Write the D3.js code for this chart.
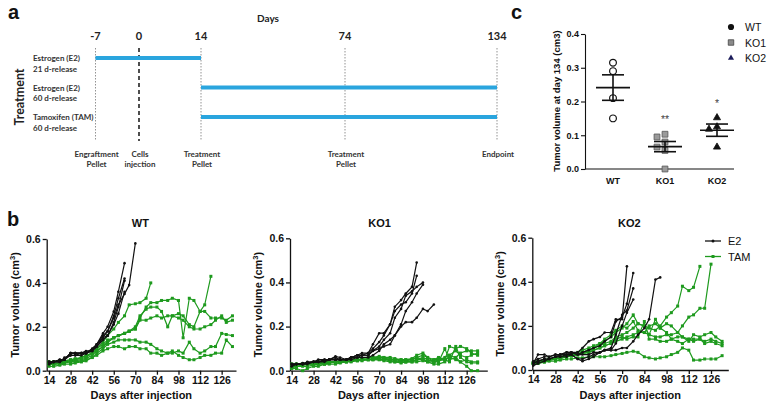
<!DOCTYPE html>
<html><head><meta charset="utf-8">
<script src="https://cdn.jsdelivr.net/npm/d3@7"></script>
<style>body{margin:0;background:#fff}svg{display:block}</style>
</head><body>
<svg id="c" width="769" height="406"></svg>
<script>
// ---------- DATA ----------
// panel a: timeline
const timelineDays = [-7, 0, 14, 74, 134];
const timelineBottom = [["Engraftment","Pellet"],["Cells","injection"],["Treatment","Pellet"],["Treatment","Pellet"],["Endpoint"]];
const treatNames = ["Estrogen (E2)","Estrogen (E2)","Tamoxifen (TAM)"];
const treatRelease = ["21 d-release","60 d-release","60 d-release"];
const treatStart = [-7, 14, 14];
const treatEnd = [14, 134, 134];

// panel c: tumor volume at day 134
const groupsC = ["WT","KO1","KO2"];
const wtDay134 = [0.315, 0.29, 0.21, 0.15];
const ko1Day134 = [0.103, 0.095, 0.08, 0.065, 0.055, 0.0];
const ko2Day134 = [0.152, 0.125, 0.118, 0.065];
const signifC = ["", "**", "*"];
const yTicksC = [0, 0.1, 0.2, 0.3, 0.4];

// panel b: growth curves
const daysB = [14,17,21,24,28,31,35,38,42,45,49,52,56,59,63,66,70,73,77,80,84,87,91,94,98,101,105,108,112,115,119,122,126,129,133];
const xTicksB = [14,28,42,56,70,84,98,112,126];
const yTicksB = [0, 0.2, 0.4, 0.6];

const wtE2 = [
 [0.04,0.04,0.05,0.05,0.08,0.08,0.08,0.08,0.10,0.12,0.16,0.18,0.24,0.30,0.35,0.39,0.58],
 [0.03,0.04,0.04,0.06,0.07,0.07,0.08,0.09,0.09,0.12,0.17,0.20,0.27,0.36,0.49],
 [0.04,0.04,0.05,0.05,0.08,0.08,0.08,0.08,0.09,0.11,0.15,0.18,0.25,0.33,0.42],
 [0.03,0.04,0.04,0.05,0.07,0.07,0.07,0.08,0.09,0.11,0.14,0.16,0.22,0.29,0.41],
 [0.04,0.04,0.05,0.05,0.08,0.08,0.08,0.08,0.10,0.12,0.15,0.16,0.21,0.26,0.36]
];
const wtTAM = [
 [0.03,0.03,0.035,0.04,0.045,0.05,0.055,0.06,0.08,0.10,0.13,0.16,0.19,0.22,0.25,0.30,0.305,0.31,0.33,0.40],
 [0.04,0.04,0.04,0.045,0.05,0.05,0.06,0.07,0.08,0.10,0.12,0.14,0.15,0.16,0.17,0.18,0.19,0.24,0.29,0.31,0.31,0.32,0.32,0.33,0.32,0.15,0.33,0.32,0.27,0.30,0.43],
 [0.03,0.03,0.035,0.04,0.04,0.045,0.05,0.055,0.07,0.09,0.11,0.13,0.15,0.16,0.17,0.18,0.20,0.25,0.28,0.29,0.29,0.27,0.20,0.25,0.26,0.25,0.21,0.20,0.27,0.27,0.24,0.24,0.24,0.23,0.25],
 [0.04,0.04,0.04,0.045,0.05,0.055,0.06,0.065,0.08,0.09,0.11,0.13,0.15,0.16,0.17,0.18,0.19,0.23,0.23,0.24,0.25,0.24,0.25,0.25,0.24,0.23,0.20,0.19,0.19,0.20,0.21,0.23,0.25,0.22,0.23],
 [0.03,0.03,0.03,0.035,0.04,0.04,0.045,0.05,0.06,0.08,0.10,0.12,0.13,0.14,0.14,0.14,0.14,0.13,0.13,0.12,0.10,0.09,0.08,0.08,0.09,0.08,0.13,0.10,0.08,0.09,0.11,0.11,0.17,0.165,0.16],
 [0.02,0.02,0.025,0.03,0.03,0.035,0.04,0.045,0.06,0.07,0.09,0.10,0.11,0.11,0.10,0.11,0.11,0.10,0.10,0.08,0.08,0.07,0.08,0.09,0.07,0.06,0.05,0.05,0.06,0.07,0.07,0.08,0.08,0.14,0.11]
];
const ko1E2 = [
 [0.03,0.03,0.035,0.035,0.04,0.04,0.045,0.05,0.05,0.05,0.05,0.06,0.07,0.07,0.08,0.12,0.17,0.17,0.21,0.29,0.32,0.35,0.38,0.49],
 [0.03,0.03,0.03,0.035,0.04,0.04,0.05,0.05,0.06,0.05,0.05,0.06,0.07,0.08,0.08,0.10,0.13,0.16,0.21,0.27,0.30,0.31,0.35,0.43],
 [0.02,0.03,0.03,0.04,0.04,0.05,0.05,0.05,0.065,0.06,0.05,0.06,0.07,0.07,0.07,0.09,0.11,0.14,0.17,0.24,0.28,0.34,0.36,0.38,0.40],
 [0.02,0.03,0.03,0.03,0.04,0.04,0.04,0.05,0.05,0.05,0.05,0.05,0.06,0.06,0.06,0.07,0.09,0.12,0.14,0.16,0.21,0.27,0.31,0.35,0.39],
 [0.03,0.03,0.03,0.035,0.04,0.04,0.045,0.05,0.05,0.05,0.05,0.06,0.06,0.07,0.07,0.09,0.10,0.11,0.12,0.16,0.20,0.22,0.22,0.24,0.28,0.27,0.30]
];
const ko1TAM = [
 [0.03,0.03,0.03,0.035,0.035,0.04,0.04,0.04,0.04,0.045,0.045,0.05,0.05,0.05,0.055,0.06,0.06,0.055,0.05,0.05,0.05,0.05,0.05,0.06,0.07,0.06,0.05,0.05,0.06,0.07,0.09,0.07,0.06,0.07,0.08],
 [0.02,0.02,0.025,0.03,0.03,0.03,0.035,0.04,0.04,0.04,0.045,0.05,0.05,0.055,0.06,0.06,0.065,0.06,0.05,0.05,0.045,0.05,0.055,0.07,0.08,0.06,0.04,0.04,0.10,0.05,0.06,0.04,0.02,0.0,0.0],
 [0.01,0.02,0.02,0.02,0.025,0.03,0.03,0.035,0.04,0.04,0.04,0.045,0.045,0.05,0.05,0.055,0.055,0.05,0.045,0.04,0.04,0.04,0.04,0.04,0.045,0.04,0.04,0.045,0.05,0.04,0.11,0.06,0.04,0.035,0.035],
 [0.02,0.025,0.03,0.03,0.03,0.035,0.03,0.035,0.04,0.04,0.045,0.045,0.05,0.05,0.05,0.05,0.06,0.06,0.06,0.055,0.05,0.045,0.05,0.06,0.05,0.045,0.05,0.06,0.05,0.11,0.10,0.11,0.10,0.08,0.07],
 [0.03,0.03,0.03,0.03,0.035,0.035,0.04,0.04,0.04,0.04,0.04,0.045,0.05,0.05,0.05,0.05,0.05,0.05,0.05,0.045,0.04,0.04,0.045,0.05,0.05,0.04,0.03,0.03,0.04,0.07,0.06,0.08,0.09,0.09,0.09],
 [0.01,0.01,0.0,0.01,0.02,0.02,0.03,0.03,0.03,0.035,0.04,0.04,0.045,0.045,0.05,0.05,0.05,0.045,0.04,0.04,0.035,0.04,0.04,0.05,0.06,0.05,0.04,0.05,0.05,0.06,0.05,0.04,0.05,0.04,0.04]
];
const ko2E2 = [
 [0.03,0.07,0.07,0.06,0.07,0.07,0.08,0.08,0.08,0.10,0.13,0.14,0.15,0.17,0.17,0.23,0.23,0.47],
 [0.04,0.05,0.06,0.06,0.07,0.07,0.08,0.08,0.07,0.08,0.09,0.10,0.11,0.13,0.15,0.22,0.24,0.30,0.44],
 [0.03,0.04,0.05,0.05,0.06,0.06,0.06,0.07,0.05,0.05,0.06,0.07,0.08,0.09,0.10,0.16,0.25,0.27,0.37],
 [0.02,0.03,0.04,0.05,0.06,0.06,0.07,0.07,0.05,0.04,0.05,0.06,0.08,0.09,0.09,0.12,0.20,0.26,0.32],
 [0.03,0.04,0.05,0.05,0.06,0.07,0.07,0.08,0.07,0.07,0.07,0.08,0.08,0.09,0.09,0.09,0.10,0.10,0.13,0.16,0.19,0.23,0.41,0.42]
];
const ko2TAM = [
 [0.03,0.035,0.04,0.045,0.05,0.055,0.06,0.065,0.07,0.08,0.09,0.10,0.11,0.12,0.13,0.15,0.16,0.17,0.19,0.21,0.20,0.19,0.18,0.20,0.24,0.26,0.29,0.38,0.36,0.375,0.47],
 [0.03,0.03,0.04,0.045,0.05,0.05,0.06,0.065,0.07,0.075,0.08,0.09,0.10,0.11,0.12,0.13,0.14,0.15,0.16,0.17,0.17,0.16,0.15,0.15,0.16,0.16,0.17,0.20,0.24,0.25,0.28,0.28,0.48],
 [0.03,0.03,0.035,0.04,0.04,0.045,0.05,0.05,0.055,0.055,0.06,0.06,0.06,0.06,0.065,0.07,0.075,0.08,0.085,0.08,0.06,0.055,0.05,0.055,0.06,0.07,0.08,0.10,0.09,0.045,0.045,0.05,0.05,0.05,0.065],
 [0.03,0.04,0.045,0.05,0.055,0.06,0.065,0.07,0.08,0.09,0.10,0.11,0.12,0.13,0.15,0.17,0.19,0.21,0.25,0.21,0.20,0.16,0.23,0.19,0.21,0.20,0.17,0.15,0.13,0.16,0.15,0.16,0.17,0.15,0.13],
 [0.035,0.04,0.045,0.05,0.055,0.06,0.065,0.07,0.075,0.08,0.09,0.10,0.12,0.14,0.16,0.18,0.20,0.19,0.22,0.18,0.17,0.20,0.21,0.19,0.17,0.14,0.15,0.15,0.14,0.14,0.14,0.13,0.14,0.13,0.12],
 [0.03,0.035,0.04,0.045,0.05,0.055,0.06,0.065,0.07,0.075,0.08,0.09,0.10,0.11,0.12,0.14,0.15,0.14,0.15,0.15,0.22,0.14,0.14,0.13,0.13,0.14,0.13,0.12,0.14,0.13,0.14,0.12,0.13,0.12,0.11]
];
const seriesNames = ["E2","TAM"];

// ---------- DRAW ----------
const svg = d3.select("#c");
const SANS = "'Liberation Sans', Arimo, Arial, sans-serif";
const CAL = "Lato, 'Open Sans', sans-serif";
const GREEN = "#1e9a1e", BLACK = "#111";

function letter(t, x, y){
  svg.append("text").attr("x",x).attr("y",y).text(t)
    .attr("font-family",SANS).attr("font-weight","bold").attr("font-size",20).attr("fill","#111");
}
letter("a", 8, 19); letter("b", 7, 226); letter("c", 511, 19);

// ===== Panel a =====
(function(){
  const g = svg.append("g");
  const x = d3.scaleLinear().domain(timelineDays).range([95.5,139,201,345,497]);
  const top = 48, bot = 141;
  g.append("text").attr("x",268).attr("y",22).attr("text-anchor","middle").text("Days")
    .attr("font-family",CAL).attr("font-weight","bold").attr("font-size",10).attr("fill","#222");
  timelineDays.forEach((d,i)=>{
    g.append("text").attr("x",x(d)).attr("y",40).attr("text-anchor","middle").text(d)
      .attr("font-family",CAL).attr("font-weight","bold").attr("font-size",11).attr("fill","#222");
    g.append("line").attr("x1",x(d)).attr("x2",x(d)).attr("y1",top).attr("y2",bot)
      .attr("stroke", d===0 ? "#222" : "#777")
      .attr("stroke-width", d===0 ? 1.6 : 0.8)
      .attr("stroke-dasharray", d===0 ? "4,3" : "1.5,1.5");
    timelineBottom[i].forEach((s,j)=>{
      g.append("text").attr("x",x(d)+1).attr("y",157+j*10).attr("text-anchor","middle").text(s)
        .attr("font-family",CAL).attr("font-weight","bold").attr("font-size",8).attr("fill","#333");
    });
  });
  const rowY = d3.scalePoint().domain(d3.range(treatNames.length)).range([58,117]);
  treatNames.forEach((n,i)=>{
    const yy = rowY(i);
    g.append("line").attr("x1",x(treatStart[i])).attr("x2",x(treatEnd[i])).attr("y1",yy).attr("y2",yy)
      .attr("stroke","#2aa5de").attr("stroke-width",4);
    g.append("text").attr("x",33).attr("y",yy+3).text(n)
      .attr("font-family",CAL).attr("font-weight","bold").attr("font-size",8).attr("fill","#333");
    g.append("text").attr("x",33).attr("y",yy+13.5).text(treatRelease[i])
      .attr("font-family",CAL).attr("font-weight","bold").attr("font-size",8).attr("fill","#333");
  });
  g.append("text").attr("transform","translate(24,97) rotate(-90)").attr("text-anchor","middle").text("Treatment")
    .attr("font-family",CAL).attr("font-weight","bold").attr("font-size",12.5).attr("fill","#222");
})();

// ===== Panel c =====
(function(){
  const g = svg.append("g");
  const y = d3.scaleLinear().domain([0,0.4]).range([169,34]);
  const x = d3.scalePoint().domain(groupsC).range([613,717]);
  const yAx = g.append("g").attr("transform","translate(585,0)")
    .call(d3.axisLeft(y).tickValues(yTicksC).tickFormat(d3.format(".1f")).tickSize(4).tickSizeOuter(0).tickPadding(2));
  yAx.selectAll("text").attr("font-family",SANS).attr("font-weight","bold").attr("font-size",9).attr("fill","#111");
  yAx.selectAll("path,line").attr("stroke","#111").attr("stroke-width",1.1);
  g.append("line").attr("x1",585).attr("x2",734).attr("y1",169).attr("y2",169).attr("stroke","#111").attr("stroke-width",1.1);
  groupsC.forEach(c=>{
    g.append("text").attr("x",x(c)).attr("y",184).attr("text-anchor","middle").text(c)
      .attr("font-family",SANS).attr("font-weight","bold").attr("font-size",9).attr("fill","#111");
  });
  g.append("text").attr("transform","translate(560,101) rotate(-90)").attr("text-anchor","middle")
    .text("Tumor volume at day 134  (cm3)")
    .attr("font-family",SANS).attr("font-weight","bold").attr("font-size",9.5).attr("fill","#111");
  const groupsData = [wtDay134, ko1Day134, ko2Day134];
  const sym = [d3.symbolCircle, d3.symbolSquare, d3.symbolTriangle];
  const symSize = [36, 34, 22];
  const fills = ["#fff","#9a9a9a","#111"];
  const strokes = ["#111","#555","#111"];
  groupsData.forEach((vals,gi)=>{
    const cx = x(groupsC[gi]);
    // simple dodge to avoid overlap
    const placed = [];
    const sorted = vals.slice().sort((a,b)=>b-a);
    sorted.forEach(v=>{
      const py = y(v);
      for (const off of [0,-8,8,-16,16]) {
        if (!placed.some(p=>Math.abs(p.off-off)<6 && Math.abs(p.py-py)<7)) { placed.push({off,py,v}); break; }
      }
    });
    placed.forEach(p=>{
      g.append("path").attr("d", d3.symbol(sym[gi], symSize[gi])())
        .attr("transform",`translate(${cx+p.off},${p.py})`)
        .attr("fill",fills[gi]).attr("stroke",strokes[gi]).attr("stroke-width",gi===0?1.2:0.8);
    });
    const m = d3.mean(vals), sem = d3.deviation(vals)/Math.sqrt(vals.length);
    const line = (x1,x2,y1,y2)=>g.append("line").attr("x1",x1).attr("x2",x2).attr("y1",y1).attr("y2",y2).attr("stroke","#111").attr("stroke-width",1.6);
    line(cx-17,cx+17,y(m),y(m));
    line(cx-11,cx+11,y(m+sem),y(m+sem));
    line(cx-11,cx+11,y(m-sem),y(m-sem));
    line(cx,cx,y(m+sem),y(m-sem));
    if (signifC[gi]) {
      g.append("text").attr("x",cx).attr("y",y(d3.max(vals)+0.05)+6).attr("text-anchor","middle").text(signifC[gi])
        .attr("font-family",SANS).attr("font-size",10.5).attr("fill","#444");
    }
  });
  // legend
  const legSize = [30, 30, 16];
  groupsC.forEach((c,i)=>{
    const ly = 27 + i*15.5;
    g.append("path").attr("d", d3.symbol(sym[i], legSize[i])()).attr("transform",`translate(731,${ly})`)
      .attr("fill", i===0?"#111":i===1?"#8a8a8a":"#1c1c5a").attr("stroke", i===1?"#444":"none").attr("stroke-width",0.8);
    g.append("text").attr("x",745).attr("y",ly+4).text(c)
      .attr("font-family",SANS).attr("font-size",10.5).attr("fill","#111");
  });
})();

// ===== Panel b =====
function growthPanel(cfg){
  const g = svg.append("g");
  const x = d3.scaleLinear().domain(cfg.dom).range([cfg.x0, cfg.x1]);
  const y = d3.scaleLinear().domain([0,0.6]).range([cfg.y0, cfg.y1]);
  const xa = g.append("g").attr("transform",`translate(0,${cfg.y0})`)
    .call(d3.axisBottom(x).tickValues(xTicksB).tickFormat(d3.format("d")).tickSize(4).tickSizeOuter(0).tickPadding(2));
  const ya = g.append("g").attr("transform",`translate(${cfg.x0},0)`)
    .call(d3.axisLeft(y).tickValues(yTicksB).tickFormat(d3.format(".1f")).tickSize(4).tickSizeOuter(0).tickPadding(2));
  [xa,ya].forEach(a=>{
    a.selectAll("text").attr("font-family",SANS).attr("font-weight","bold").attr("font-size",10.5).attr("fill","#111");
    a.selectAll("path,line").attr("stroke","#111").attr("stroke-width",1.3);
  });
  g.append("text").attr("x",(cfg.x0+cfg.x1)/2+cfg.tdx).attr("y",227).attr("text-anchor","middle").text(cfg.title)
    .attr("font-family",SANS).attr("font-weight","bold").attr("font-size",11).attr("fill","#111");
  g.append("text").attr("x",(cfg.x0+cfg.x1)/2).attr("y",399).attr("text-anchor","middle").text("Days after injection")
    .attr("font-family",SANS).attr("font-weight","bold").attr("font-size",11).attr("fill","#111");
  const yl = g.append("text").attr("transform",`translate(${cfg.x0-28},${(cfg.y0+cfg.y1)/2}) rotate(-90)`).attr("text-anchor","middle")
    .attr("font-family",SANS).attr("font-weight","bold").attr("font-size",11).attr("fill","#111");
  yl.append("tspan").text("Tumor volume  (cm");
  yl.append("tspan").text("3").attr("dy",-4).attr("font-size",7.5);
  yl.append("tspan").text(")").attr("dy",4);
  const line = d3.line().x(d=>x(d[0])).y(d=>y(d[1]));
  const drawSet = (set, color, marker)=>{
    set.forEach(vals=>{
      const pts = vals.map((v,i)=>[daysB[i], v]);
      g.append("path").attr("d",line(pts)).attr("fill","none").attr("stroke",color).attr("stroke-width",1.2);
      pts.forEach(p=>{
        if (marker==="sq") g.append("rect").attr("x",x(p[0])-1.5).attr("y",y(p[1])-1.5).attr("width",3).attr("height",3).attr("fill",color);
        else g.append("circle").attr("cx",x(p[0])).attr("cy",y(p[1])).attr("r",1.3).attr("fill",color);
      });
    });
  };
  drawSet(cfg.tam, GREEN, "sq");
  drawSet(cfg.e2, BLACK, "dot");
  return g;
}
growthPanel({title:"WT", dom:[12.5,135.3], x0:46.7, x1:236, y0:370.7, y1:239, e2:wtE2, tam:wtTAM, tdx:-1});
growthPanel({title:"KO1", dom:[12.9,139.2], x0:290, x1:487.3, y0:370.7, y1:238.3, e2:ko1E2, tam:ko1TAM, tdx:-9});
growthPanel({title:"KO2", dom:[13.4,136.9], x0:532.3, x1:728.3, y0:370, y1:237.7, e2:ko2E2, tam:ko2TAM, tdx:-1});

// legend panel b
seriesNames.forEach((n,i)=>{
  const ly = 241 + i*15.5;
  const col = i===0?BLACK:GREEN;
  svg.append("line").attr("x1",705).attr("x2",721).attr("y1",ly).attr("y2",ly).attr("stroke",col).attr("stroke-width",1.3);
  if (i===0) svg.append("circle").attr("cx",713).attr("cy",ly).attr("r",1.5).attr("fill",col);
  else svg.append("rect").attr("x",711.5).attr("y",ly-1.5).attr("width",3).attr("height",3).attr("fill",col);
  svg.append("text").attr("x",728).attr("y",ly+4).text(n)
    .attr("font-family",SANS).attr("font-size",11).attr("fill","#111");
});
</script>
</body></html>
